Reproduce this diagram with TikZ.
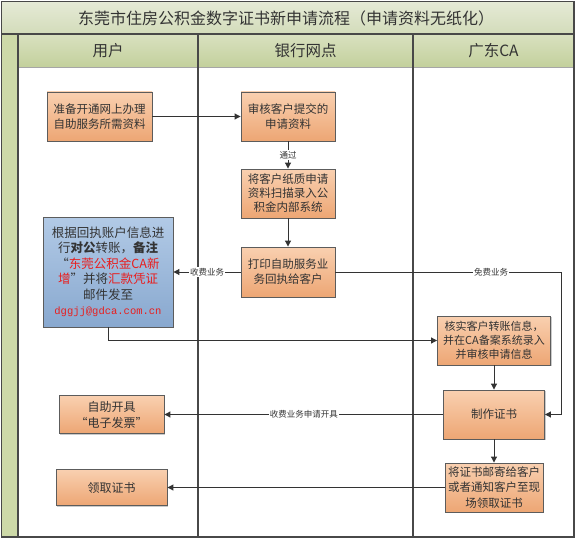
\documentclass[tikz,border=0pt]{standalone}
\usepackage{fontspec}
\setmainfont{Noto Sans CJK SC}
\setmonofont{Liberation Mono}
\usepackage{tikz}
\usetikzlibrary{
  arrows.meta,
  calc,
  positioning,
  shadows
}
\definecolor{laneStroke}{RGB}{72,72,72}
\definecolor{titleTop}{RGB}{229,234,214}
\definecolor{titleBottom}{RGB}{211,220,186}
\definecolor{headTop}{RGB}{217,225,192}
\definecolor{headBottom}{RGB}{195,208,156}
\definecolor{stripFill}{RGB}{205,217,168}
\definecolor{stepTop}{RGB}{249,208,176}
\definecolor{stepBottom}{RGB}{237,166,116}
\definecolor{stepStroke}{RGB}{92,92,92}
\definecolor{noteTop}{RGB}{178,202,230}
\definecolor{noteBottom}{RGB}{136,168,207}
\definecolor{alertRed}{RGB}{232,30,30}
\colorlet{ink}{black!80}
\tikzset{
  flow/.style={-{Triangle[length=6pt,width=6pt]}, draw=ink, line width=1pt},
  lane/.style={draw=laneStroke, line width=1.2pt},
  stepbox/.style={
    draw=stepStroke,
    top color=stepTop,
    bottom color=stepBottom,
    line width=0.9pt,
    inner sep=0pt,
    align=center,
    text=ink,
    font=\fontsize{11.5}{15}\selectfont,
    drop shadow={shadow xshift=1.2pt, shadow yshift=-1.2pt, opacity=0.35, fill=black!60}
  },
  notebox/.style={
    draw=stepStroke,
    top color=noteTop,
    bottom color=noteBottom,
    line width=0.9pt,
    inner sep=0pt,
    align=center,
    text=ink,
    font=\fontsize{12.5}{15.5}\selectfont,
    drop shadow={shadow xshift=1.2pt, shadow yshift=-1.2pt, opacity=0.35, fill=black!60}
  },
  lbl/.style={fill=white, inner sep=1pt, text=ink, font=\fontsize{8.5}{10}\selectfont},
  headlbl/.style={text=ink, font=\fontsize{15.5}{18}\selectfont}
}

\begin{document}
\begin{tikzpicture}[x=1pt,y=-1pt]
  \useasboundingbox (0,0) rectangle (577,540);

  % swimlane frame
  \fill[top color=titleTop, bottom color=titleBottom] (1.5,1.5) rectangle (574,34);
  \fill[stripFill] (1.5,34) rectangle (18,537);
  \fill[top color=headTop, bottom color=headBottom] (18,34) rectangle (574,67);
  \draw[black!35, line width=0.8pt] (18,67) -- (574,67);
  \draw[lane] (1.5,1.5) rectangle (574,537);
  \draw[lane] (1.5,34) -- (574,34);
  \draw[lane] (18,34) -- (18,537);
  \draw[lane] (198,34) -- (198,537);
  \draw[lane] (413,34) -- (413,537);

  \node[text=ink, font=\fontsize{16}{19}\selectfont] (title) at (286,18) {东莞市住房公积金数字证书新申请流程（申请资料无纸化）};
  \node[headlbl] (userhead) at (108,51) {用户};
  \node[headlbl] (bankhead) at (305.5,51) {银行网点};
  \node[headlbl] (cahead) at (493.5,51) {广东CA};

  % steps
  \node[stepbox, minimum width=105pt, minimum height=49pt] (prepare) at (99.5,116.5) {准备开通网上办理\\自助服务所需资料};
  \node[stepbox, minimum width=94pt, minimum height=49pt] (review) at (288,116.5) {审核客户提交的\\申请资料};
  \node[stepbox, minimum width=94pt, minimum height=49pt, font=\fontsize{11.5}{14}\selectfont] (scan) at (288,193.5) {将客户纸质申请\\资料扫描录入公\\积金内部系统};
  \node[stepbox, minimum width=94pt, minimum height=50pt] (receipt) at (288,272) {打印自助服务业\\务回执给客户};
  \node[notebox, minimum width=130pt, minimum height=110pt] (transfer) at (108,272) {根据回执账户信息进\\行\textbf{对公}转账，\textbf{备注}\\“\textcolor{alertRed}{东莞公积金CA新}\\\textcolor{alertRed}{增}”并将\textcolor{alertRed}{汇款凭证}\\邮件发至\\\textcolor{alertRed}{\ttfamily\fontsize{10.5}{15.5}\selectfont dggjj@gdca.com.cn}};
  \node[stepbox, minimum width=113pt, minimum height=49pt, font=\fontsize{11}{14}\selectfont] (verify) at (494,340.5) {核实客户转账信息，\\并在CA备案系统录入\\并审核申请信息};
  \node[stepbox, minimum width=101pt, minimum height=49pt] (make) at (494,414.5) {制作证书};
  \node[stepbox, minimum width=98pt, minimum height=49pt, font=\fontsize{11.5}{15.5}\selectfont] (mail) at (494,487.5) {将证书邮寄给客户\\或者通知客户至现\\场领取证书};
  \node[stepbox, minimum width=105pt, minimum height=38pt, font=\fontsize{12}{16}\selectfont] (invoice) at (111.5,414.5) {自助开具\\“电子发票”};
  \node[stepbox, minimum width=111pt, minimum height=36pt, font=\fontsize{12}{16}\selectfont] (collect) at (111.5,487.5) {领取证书};

  \coordinate (freeturn) at (561,272);

  % connectors
  \draw[flow] (prepare.east) -- (review.west);
  \draw[flow] (review.south) -- node[lbl] {通过} (scan.north);
  \draw[flow] (scan.south) -- (receipt.north);
  \draw[flow] (receipt.west) -- node[lbl] {收费业务} (transfer.east);
  \draw[flow] (transfer.south) |- (verify.west);
  \draw[flow] (receipt.east) -- node[lbl, pos=0.69] {免费业务} (freeturn) |- (make.east);
  \draw[flow] (verify.south) -- (make.north);
  \draw[flow] (make.south) -- (mail.north);
  \draw[flow] (make.west) -- node[lbl] {收费业务申请开具} (invoice.east);
  \draw[flow] (mail.west) -- (collect.east);
\end{tikzpicture}
\end{document}
